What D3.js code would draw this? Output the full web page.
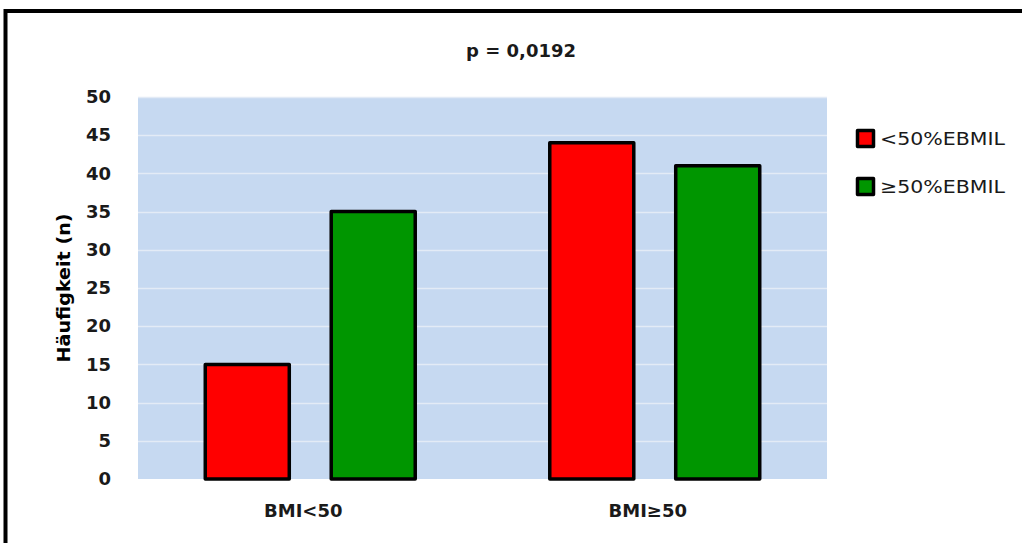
<!DOCTYPE html>
<html>
<head>
<meta charset="utf-8">
<script src="https://cdn.jsdelivr.net/npm/d3@7"></script>
<style>
  html, body { margin: 0; padding: 0; background: #ffffff; }
  svg { display: block; }
</style>
</head>
<body>
<svg id="chart" width="1022" height="543"></svg>
<script>
// Gruppen (BMI-Klassen) und Serien (EBMIL-Ergebnis)
const categories = ["BMI<50", "BMI\u226550"];
const seriesNames = ["<50%EBMIL", "\u226550%EBMIL"];
const seriesLow = [15, 44];   // <50%EBMIL
const seriesHigh = [35, 41];  // ≥50%EBMIL
const yTicks = [0, 5, 10, 15, 20, 25, 30, 35, 40, 45, 50];
const titleText = "p = 0,0192";
const yTitle = "H\u00e4ufigkeit (n)";

const colors = ["#ff0000", "#009600"];
const seriesValues = [seriesLow, seriesHigh];

const svg = d3.select("#chart");
const font = "'DejaVu Sans', sans-serif";

// Rahmen um das Diagramm
svg.append("rect")
  .attr("x", 5.5).attr("y", 11)
  .attr("width", 1100).attr("height", 600)
  .attr("fill", "none").attr("stroke", "#000").attr("stroke-width", 4);

const plot = { left: 138, right: 827, top: 97, bottom: 479 };

const x0 = d3.scaleBand().domain(categories).range([plot.left, plot.right]).padding(0);
const x1 = d3.scaleBand().domain(seriesNames).range([0, x0.bandwidth()])
  .paddingInner(0.333).paddingOuter(0.534);
const y = d3.scaleLinear().domain([0, 50]).range([plot.bottom, plot.top]);

// Plotfläche
svg.append("rect")
  .attr("x", plot.left).attr("y", plot.top)
  .attr("width", plot.right - plot.left).attr("height", plot.bottom - plot.top)
  .attr("fill", "#c6d9f1");

// Gitternetzlinien
svg.append("g").selectAll("line")
  .data(yTicks.filter(t => t > 0))
  .join("line")
  .attr("x1", plot.left).attr("x2", plot.right)
  .attr("y1", d => Math.round(y(d)) + 0.5).attr("y2", d => Math.round(y(d)) + 0.5)
  .attr("stroke", "#e3ebf6").attr("stroke-width", 1.5);

// Balken
const groups = svg.append("g").selectAll("g")
  .data(categories)
  .join("g")
  .attr("transform", d => `translate(${x0(d)},0)`);

groups.selectAll("rect")
  .data((c, i) => seriesNames.map((s, j) => ({ s, j, v: seriesValues[j][i] })))
  .join("rect")
  .attr("x", d => x1(d.s))
  .attr("width", x1.bandwidth())
  .attr("y", d => y(d.v))
  .attr("height", d => y(0) - y(d.v))
  .attr("fill", d => colors[d.j])
  .attr("stroke", "#000")
  .attr("stroke-width", 3.5)
  .attr("stroke-linejoin", "round");

// Y-Achse
const yAxis = svg.append("g")
  .attr("transform", `translate(${plot.left},0)`)
  .call(d3.axisLeft(y).tickValues(yTicks).tickSize(0).tickPadding(27));
yAxis.select(".domain").remove();
yAxis.selectAll("text")
  .attr("font-family", font).attr("font-weight", "bold")
  .attr("font-size", 18).attr("fill", "#1a1a1a");

// X-Achse
const xAxis = svg.append("g")
  .attr("transform", `translate(0,${plot.bottom})`)
  .call(d3.axisBottom(x0).tickSize(0).tickPadding(25));
xAxis.select(".domain").remove();
xAxis.selectAll("text")
  .attr("font-family", font).attr("font-weight", "bold")
  .attr("font-size", 18).attr("fill", "#1a1a1a")
  .attr("dx", -7);

// Titel
svg.append("text")
  .attr("x", 521).attr("y", 57)
  .attr("text-anchor", "middle")
  .attr("font-family", font).attr("font-weight", "bold")
  .attr("font-size", 18).attr("fill", "#1a1a1a")
  .text(titleText);

// Achsentitel
svg.append("text")
  .attr("transform", `translate(70,${(plot.top + plot.bottom) / 2}) rotate(-90)`)
  .attr("text-anchor", "middle")
  .attr("font-family", font).attr("font-weight", "bold")
  .attr("font-size", 18).attr("fill", "#000")
  .attr("textLength", 149).attr("lengthAdjust", "spacingAndGlyphs")
  .text(yTitle);

// Legende
const legend = svg.append("g").selectAll("g")
  .data(seriesNames)
  .join("g")
  .attr("transform", (d, i) => `translate(857,${130 + i * 48})`);
legend.append("rect")
  .attr("x", 0.5).attr("y", 0.5).attr("width", 16).attr("height", 16)
  .attr("fill", (d, i) => colors[i])
  .attr("stroke", "#000").attr("stroke-width", 3.5)
  .attr("stroke-linejoin", "round");
legend.append("text")
  .attr("x", 23).attr("y", 15)
  .attr("font-family", font).attr("font-size", 18).attr("fill", "#1a1a1a")
  .attr("textLength", 125).attr("lengthAdjust", "spacingAndGlyphs")
  .text(d => d);
</script>
</body>
</html>
